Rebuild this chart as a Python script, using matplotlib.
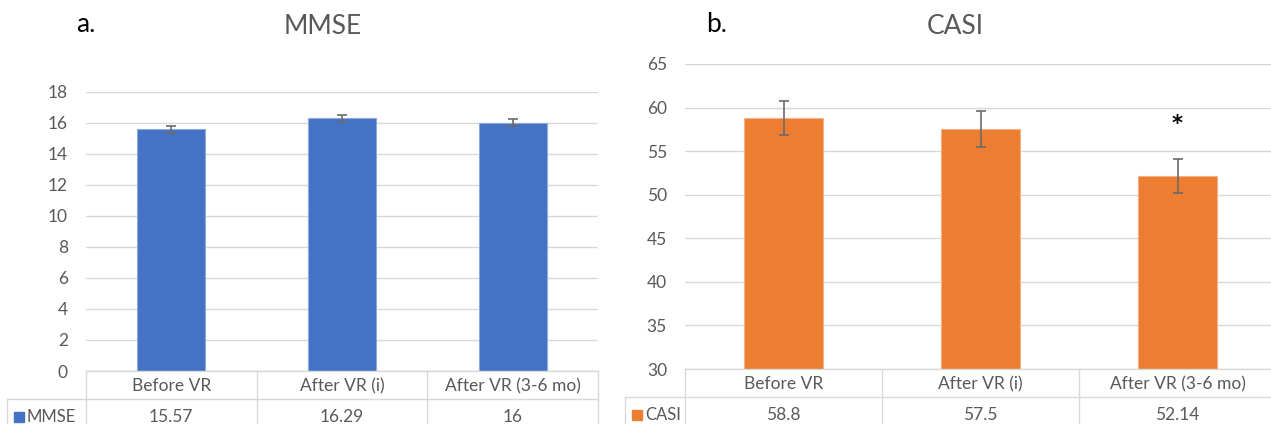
import matplotlib
matplotlib.use('AGG')
from matplotlib import pyplot as plt
from matplotlib.lines import Line2D
from matplotlib.patches import Rectangle

categories = ["Before VR", "After VR (i)", "After VR (3-6 mo)"]
mmse = [15.57, 16.29, 16]
mmse_err = [0.22, 0.23, 0.22]
casi = [58.8, 57.5, 52.14]
casi_err = [2.0, 2.05, 1.98]
casi_sig = [False, False, True]

W, H = 1271, 424
blue = '#4472C4'
orange = '#ED7D31'
grey_txt = '#595959'
grid_c = '#d9d9d9'
fs = 12.5

plt.rcParams['font.family'] = ['Lato', 'DejaVu Sans']

fig = plt.figure(figsize=(W / 100, H / 100), dpi=100, facecolor='white')


def fx(x):
    return x / W


def fy(y):
    return 1 - y / H


def hline(x0, x1, y):
    fig.add_artist(Line2D([fx(x0), fx(x1)], [fy(y), fy(y)], color=grid_c, lw=1.0))


def vline(x, y0, y1):
    fig.add_artist(Line2D([fx(x), fx(x)], [fy(y0), fy(y1)], color=grid_c, lw=1.0))


def panel(left, right, top, bottom, lab_x, ylim, step, vals, errs, color, edge,
          name, title, letter, title_x, letter_x, sig=None):
    ax = fig.add_axes([fx(left), fy(bottom), fx(right - left), (bottom - top) / H])
    x = range(len(vals))
    ax.bar(x, vals, width=0.4, color=color, edgecolor=edge, linewidth=0.8, zorder=3)
    ax.errorbar(x, vals, yerr=errs, fmt='none', ecolor='#6b6b6b', elinewidth=1.2,
                capsize=3.5, capthick=1.2, zorder=4)
    ax.set_xlim(-0.5, len(vals) - 0.5)
    ax.set_ylim(*ylim)
    ax.set_yticks(range(ylim[0], ylim[1] + 1, step))
    ax.set_xticks([])
    ax.tick_params(axis='y', length=0, pad=13, labelsize=fs, labelcolor=grey_txt)
    ax.grid(axis='y', color=grid_c, lw=1.0, zorder=0)
    for sp in ax.spines.values():
        sp.set_visible(False)
    if sig:
        for i, s in enumerate(sig):
            if s:
                ax.text(i, vals[i] + errs[i] + 4.0, '*', ha='center', va='center',
                        fontsize=15, fontweight='bold', color='black', zorder=5,
                        family='DejaVu Sans')

    # data table under the axis
    col_w = (right - left) / len(vals)
    row_mid = bottom + 28
    hline(left, right, bottom)
    hline(lab_x, right, row_mid)
    vline(left, bottom, H + 2)
    vline(lab_x, row_mid, H + 2)
    for i in range(1, len(vals) + 1):
        vline(left + i * col_w, bottom, H + 2)
    for i, (c, v) in enumerate(zip(categories, vals)):
        cx = fx(left + (i + 0.5) * col_w)
        fig.text(cx, fy(bottom + 15), c, ha='center', va='center', fontsize=fs, color=grey_txt)
        fig.text(cx, fy(row_mid + 18), f'{v:g}', ha='center', va='center', fontsize=fs, color=grey_txt)
    fig.add_artist(Rectangle((fx(lab_x + 7), fy(row_mid + 23)), fx(10), 10 / H, color=color))
    fig.text(fx(lab_x + 20), fy(row_mid + 18), name, ha='left', va='center', fontsize=12, color=grey_txt)

    fig.text(fx(title_x), fy(27), title, ha='center', va='center', fontsize=19, color=grey_txt)
    fig.text(fx(letter_x), fy(24), letter, ha='left', va='center', fontsize=19, color='black')
    return ax


panel(86, 598, 91.7, 371, 7, (0, 18), 2, mmse, mmse_err, blue, '#8eaadb',
      'MMSE', 'MMSE', 'a.', 323, 76)
panel(685, 1276, 64, 369, 625, (30, 65), 5, casi, casi_err, orange, '#f4b183',
      'CASI', 'CASI', 'b.', 955, 706, sig=casi_sig)

plt.savefig('out.png', dpi=100, facecolor='white')
